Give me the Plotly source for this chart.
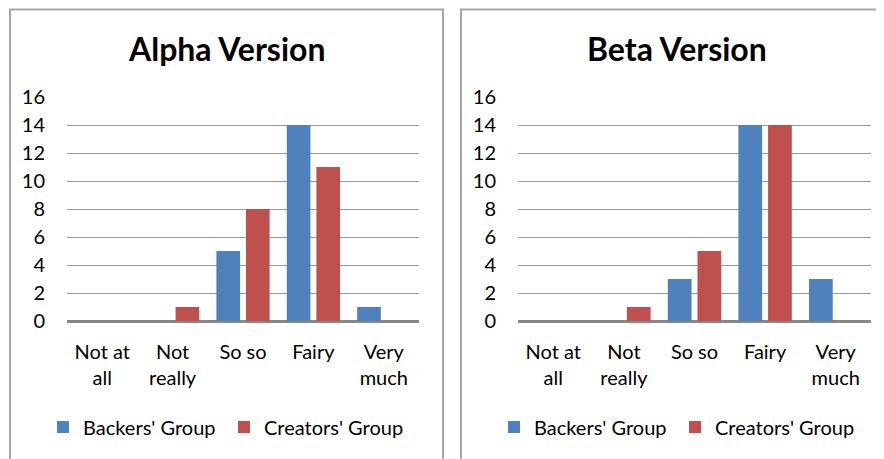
import plotly.graph_objects as go

categories = ["Not at<br>all", "Not<br>really", "So so", "Fairy", "Very<br>much"]
alpha_backers = [0, 0, 5, 14, 1]
alpha_creators = [0, 1, 8, 11, 0]
beta_backers = [0, 0, 3, 14, 3]
beta_creators = [0, 1, 5, 14, 0]
series_names = ["Backers' Group", "Creators' Group"]
titles = ["Alpha Version", "Beta Version"]
y_ticks = [0, 2, 4, 6, 8, 10, 12, 14, 16]

W, H = 884, 459
OFF = 8  # page body margin
BLUE = "#4F81BD"
RED = "#C0504D"
FONT = "Lato"

def px(x):
    return (x - OFF) / W

def py(y):
    return 1 - (y - OFF) / H

fig = go.Figure()

panels = [
    (alpha_backers, alpha_creators, "x", "y", "legend"),
    (beta_backers, beta_creators, "x2", "y2", "legend2"),
]
for b, c, xa, ya, lg in panels:
    fig.add_trace(go.Bar(x=categories, y=b, name=series_names[0], marker=dict(color=BLUE, line=dict(width=0)),
                         xaxis=xa, yaxis=ya, legend=lg))
    fig.add_trace(go.Bar(x=categories, y=c, name=series_names[1], marker=dict(color=RED, line=dict(width=0)),
                         xaxis=xa, yaxis=ya, legend=lg))

xdoms = [[px(67), px(419)], [px(518), px(871)]]
ydom = [py(321), py(97)]

axis_font = dict(family=FONT, size=20, color="#000000")
xcommon = dict(showgrid=False, showline=False, zeroline=False, ticks="", tickfont=axis_font,
               ticklabelstandoff=17, fixedrange=True, automargin=False)
ycommon = dict(range=[0, 16], tickvals=y_ticks, showgrid=True, gridcolor="#999999", gridwidth=1.3,
               zeroline=True, zerolinecolor="#878787", zerolinewidth=2.5, showline=False, ticks="",
               tickfont=axis_font, ticklabelstandoff=21, fixedrange=True, automargin=False)

legend_common = dict(orientation="h", font=dict(family=FONT, size=20, color="#000000"),
                     bgcolor="rgba(0,0,0,0)", itemwidth=30, tracegroupgap=0, entrywidth=136,
                     xanchor="left", yanchor="middle", itemclick=False, itemdoubleclick=False)

fig.update_layout(
    template="none",
    width=W, height=H,
    margin=dict(l=0, r=0, t=0, b=0, pad=0, autoexpand=False),
    paper_bgcolor="white", plot_bgcolor="white",
    barmode="group", bargap=0.16, bargroupgap=0.2,
    font=dict(family=FONT),
    xaxis=dict(domain=xdoms[0], anchor="y", **xcommon),
    yaxis=dict(domain=ydom, anchor="x", **ycommon),
    xaxis2=dict(domain=xdoms[1], anchor="y2", **xcommon),
    yaxis2=dict(domain=ydom, anchor="x2", **ycommon),
    legend=dict(x=px(43), y=py(427), **legend_common),
    legend2=dict(x=px(494), y=py(427), **legend_common),
    showlegend=True,
)

# Panel borders
for x0, x1 in [(10, 443), (461, 900)]:
    fig.add_shape(type="rect", xref="paper", yref="paper",
                  x0=px(x0), x1=px(x1), y0=py(480), y1=py(9.5),
                  line=dict(color="#A6A6A6", width=2), fillcolor="rgba(0,0,0,0)", layer="below")

# Titles
for t, cx in zip(titles, [226.5, 677]):
    fig.add_annotation(text="<b>" + t + "</b>", xref="paper", yref="paper", x=px(cx), y=py(48),
                       showarrow=False, xanchor="center", yanchor="middle",
                       font=dict(family=FONT, size=32, color="#000000"))

fig.write_html("out.html")
